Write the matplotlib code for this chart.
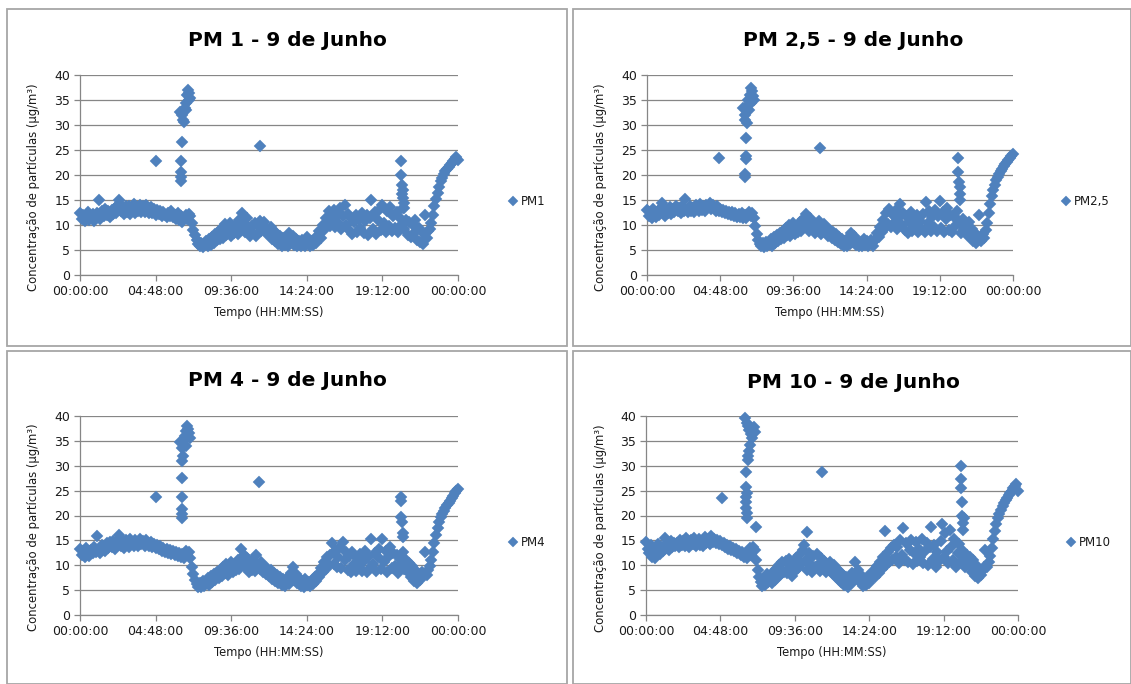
import numpy as np
import matplotlib
matplotlib.use("Agg")
import matplotlib.pyplot as plt
from matplotlib.patches import Rectangle

plt.rcParams['font.family'] = ['DejaVu Sans']

# ---------------- data ----------------
# base samples every 0.1 h (6 min) from 00:00 to 24:00
step_h = 0.1
tick_hours = [0, 4.8, 9.6, 14.4, 19.2, 24]
tick_labels = ["00:00:00", "04:48:00", "09:36:00", "14:24:00", "19:12:00", "00:00:00"]
y_ticks = [0, 5, 10, 15, 20, 25, 30, 35, 40]

pm1_values = [
    12.5, 11.2, 12.0, 10.8, 11.8, 12.6, 11.0, 11.5, 12.3, 10.9,
    11.6, 12.4, 15.0, 11.3, 12.8, 11.8, 13.2, 12.0, 12.9, 11.7,
    13.0, 12.2, 13.5, 12.4, 14.0, 15.0, 12.8, 13.6, 12.2, 13.8,
    12.6, 13.9, 12.3, 13.4, 14.2, 12.5, 13.7, 12.9, 14.0, 12.6,
    13.8, 12.7, 14.1, 13.0, 12.5, 13.6, 12.4, 13.2, 12.1, 13.0,
    12.3, 12.9, 11.8, 12.6, 12.0, 11.7, 12.5, 11.9, 12.8, 11.6,
    12.1, 11.2, 12.4, 11.0, 11.8, 10.7, 11.5, 12.0, 11.3, 12.2,
    11.8, 10.5, 9.0, 8.0, 7.0, 6.3, 5.8, 6.5, 5.7, 6.2,
    6.8, 5.8, 7.2, 6.1, 7.6, 6.5, 8.2, 7.0, 8.8, 7.2,
    9.5, 7.5, 10.2, 8.0, 9.0, 10.5, 7.8, 9.6, 8.4, 10.0,
    8.2, 11.0, 9.0, 12.5, 10.2, 8.6, 11.5, 9.4, 7.8, 9.8,
    8.5, 10.4, 7.9, 9.8, 10.8, 8.8, 9.6, 10.6, 8.4, 9.2,
    8.0, 9.6, 7.2, 8.8, 6.8, 8.2, 6.2, 7.8, 5.9, 7.4,
    6.0, 7.5, 5.8, 8.5, 6.6, 7.8, 6.0, 7.2, 5.8, 6.8,
    5.9, 7.0, 6.2, 5.8, 7.6, 6.4, 5.8, 6.9, 6.1, 7.4,
    6.5, 7.8, 8.8, 7.5, 10.0, 9.0, 11.5, 10.2, 12.8, 9.8,
    11.2, 13.0, 9.6, 12.0, 10.4, 13.5, 9.2, 11.8, 14.0, 10.0,
    12.2, 9.0, 11.5, 8.2, 10.6, 12.0, 8.6, 11.2, 9.4, 12.4,
    8.4, 10.8, 12.0, 8.0, 11.5, 15.0, 9.2, 12.6, 8.2, 11.0,
    13.0, 9.0, 14.0, 10.5, 8.6, 12.8, 9.8, 13.6, 8.8, 11.8,
    9.4, 12.6, 8.6, 11.4, 10.0, 13.5, 9.2, 11.0, 8.0, 10.6,
    7.6, 10.2, 8.4, 11.0, 7.0, 9.4, 6.6, 8.6, 6.2, 12.0,
    7.5, 8.8, 9.2, 10.5, 12.0, 13.8, 15.2, 16.5, 17.6, 18.8,
    19.5, 20.2, 20.8, 21.2, 21.6, 22.0, 22.4, 22.8, 23.2, 23.6,
    23.0,
]
pm1_extra_t = [4.83, 6.40, 6.40, 6.42, 6.42, 6.45, 6.38, 6.50, 6.55, 6.60, 6.65, 6.70,
               6.80, 6.85, 6.95, 7.00, 6.90, 6.75, 11.40,
               20.40, 20.40, 20.45, 20.50, 20.50, 20.55, 20.60, 20.45]
pm1_extra_v = [22.9, 18.8, 19.6, 20.6, 22.8, 26.7, 32.7, 32.0, 31.0, 30.6, 33.5, 34.5,
               36.0, 37.0, 36.4, 35.5, 35.0, 33.0, 25.8,
               22.9, 20.0, 18.0, 17.0, 15.5, 14.5, 13.5, 16.2]

pm25_values = [
    13.0, 11.8, 12.6, 11.5, 13.2, 12.2, 11.6, 12.8, 12.0, 13.4,
    14.5, 12.3, 11.8, 13.0, 12.4, 13.6, 12.2, 13.2, 12.6, 13.8,
    12.8, 13.5, 12.4, 13.9, 12.9, 15.2, 13.1, 12.6, 13.8, 12.8,
    13.5, 12.7, 14.0, 13.2, 12.8, 14.2, 13.0, 13.8, 12.9, 14.0,
    13.6, 14.5, 13.2, 14.0, 13.4, 12.9, 13.8, 12.8, 13.3, 12.6,
    13.0, 12.4, 12.9, 12.2, 12.7, 12.0, 12.6, 11.8, 12.4, 11.7,
    12.3, 11.6, 12.5, 11.5, 12.0, 11.4, 12.2, 12.6, 11.8, 12.4,
    11.5, 9.8, 8.2, 7.0, 6.2, 5.8, 6.4, 5.7, 6.6, 5.8,
    6.2, 7.2, 5.9, 7.6, 6.4, 8.0, 6.8, 8.4, 7.2, 8.8,
    7.5, 9.4, 8.0, 10.0, 7.8, 9.2, 10.4, 8.2, 9.8, 8.6,
    10.6, 8.8, 11.2, 9.6, 12.3, 10.4, 8.8, 11.4, 9.2, 10.6,
    8.4, 10.2, 9.0, 10.8, 8.2, 9.6, 10.2, 8.6, 9.4, 7.8,
    9.0, 7.4, 8.6, 7.0, 8.2, 6.6, 7.6, 6.2, 7.2, 5.9,
    6.8, 5.8, 7.4, 6.2, 8.4, 6.6, 7.8, 6.0, 7.0, 5.8,
    6.6, 5.8, 7.2, 6.0, 6.8, 5.8, 6.4, 7.0, 5.9, 6.8,
    7.2, 8.4, 7.6, 9.6, 8.6, 11.0, 9.4, 12.4, 10.2, 13.2,
    9.6, 12.0, 10.4, 13.0, 9.2, 11.6, 14.2, 10.0, 12.4, 9.0,
    11.8, 8.4, 10.6, 12.6, 8.8, 11.2, 9.6, 12.0, 8.6, 10.8,
    9.2, 12.2, 8.6, 14.6, 10.4, 12.8, 8.8, 11.6, 9.6, 13.0,
    8.8, 11.8, 14.8, 9.4, 12.6, 8.6, 11.2, 13.4, 9.0, 12.0,
    8.6, 11.6, 9.8, 12.8, 11.0, 10.2, 8.4, 11.2, 9.0, 10.4,
    8.0, 10.6, 7.6, 9.2, 6.8, 8.4, 6.4, 7.6, 12.0, 6.8,
    8.2, 7.4, 9.0, 10.5, 12.4, 14.2, 15.8, 17.0, 18.0, 19.0,
    19.6, 20.2, 20.8, 21.3, 21.8, 22.2, 22.6, 23.0, 23.5, 23.9,
    24.3,
]
pm25_extra_t = [4.70, 6.45, 6.45, 6.47, 6.47, 6.50, 6.30, 6.40, 6.45, 6.55, 6.60, 6.65,
                6.75, 6.85, 6.90, 6.95, 7.00, 6.70, 6.80, 11.35,
                20.40, 20.40, 20.45, 20.50, 20.50, 20.55]
pm25_extra_v = [23.5, 19.6, 20.3, 23.2, 23.8, 27.5, 33.5, 32.0, 31.0, 30.5, 34.0, 35.0,
                36.0, 37.4, 36.8, 35.8, 35.0, 33.0, 34.5, 25.5,
                23.5, 20.7, 18.7, 17.7, 16.3, 15.0]

pm4_values = [
    13.2, 12.0, 12.8, 11.6, 13.4, 12.2, 11.8, 13.0, 12.4, 13.6,
    12.6, 15.8, 13.0, 12.4, 14.0, 13.2, 12.8, 14.4, 13.4, 14.6,
    13.6, 14.8, 13.2, 14.2, 15.0, 16.0, 13.8, 14.6, 13.4, 15.0,
    14.0, 13.6, 15.2, 14.2, 13.8, 15.0, 14.4, 13.9, 15.2, 14.2,
    14.8, 13.8, 15.0, 14.4, 13.9, 14.6, 13.6, 14.2, 13.4, 14.0,
    13.2, 13.8, 12.9, 13.5, 12.6, 13.3, 12.4, 13.0, 12.2, 12.8,
    12.0, 12.6, 11.8, 12.4, 11.6, 12.2, 11.5, 12.8, 12.0, 12.6,
    11.4, 9.6, 8.2, 7.0, 6.2, 5.6, 6.4, 5.6, 6.8, 5.8,
    6.4, 7.4, 6.0, 7.8, 6.6, 8.2, 7.0, 8.6, 7.4, 9.0,
    7.8, 9.6, 8.4, 10.2, 8.0, 9.4, 10.6, 8.6, 10.0, 9.0,
    11.0, 9.2, 13.2, 10.4, 12.0, 9.6, 11.4, 8.6, 10.2, 9.0,
    11.0, 8.8, 12.0, 10.0, 9.2, 10.6, 8.6, 9.8, 8.2, 9.4,
    7.8, 9.0, 7.2, 8.4, 6.8, 8.0, 6.4, 7.6, 6.0, 7.2,
    5.8, 6.8, 7.6, 6.2, 8.4, 9.6, 7.0, 8.2, 6.4, 7.4,
    5.8, 6.8, 5.6, 7.2, 6.0, 6.6, 5.8, 7.0, 6.2, 7.6,
    6.8, 8.2, 7.6, 9.4, 8.6, 10.6, 9.2, 11.6, 10.0, 12.0,
    14.4, 10.2, 12.8, 9.6, 11.6, 13.6, 9.4, 14.6, 11.0, 12.6,
    9.0, 11.8, 8.6, 12.6, 10.2, 8.8, 11.4, 9.6, 12.2, 8.8,
    10.8, 12.8, 8.6, 11.6, 9.4, 15.2, 10.2, 12.4, 8.8, 11.6,
    13.2, 9.2, 15.2, 10.6, 12.8, 8.6, 11.8, 13.6, 9.4, 12.4,
    9.8, 12.0, 8.4, 11.2, 10.2, 12.6, 9.2, 11.0, 8.6, 10.4,
    7.6, 9.8, 6.8, 9.0, 6.4, 8.2, 7.0, 8.6, 7.8, 12.7,
    8.0, 9.0, 9.8, 11.0, 12.6, 14.4, 16.0, 17.4, 18.6, 19.6,
    20.3, 21.0, 21.6, 22.1, 22.6, 23.0, 23.5, 24.0, 24.5, 25.0,
    25.3,
]
pm4_extra_t = [4.83, 6.45, 6.45, 6.47, 6.47, 6.50, 6.35, 6.45, 6.50, 6.55, 6.60, 6.65,
               6.75, 6.80, 6.85, 6.95, 7.00, 6.70, 11.38,
               20.35, 20.40, 20.40, 20.45, 20.50, 20.50]
pm4_extra_v = [23.7, 19.4, 20.4, 21.4, 23.7, 27.6, 34.8, 33.5, 31.0, 32.0, 35.2, 36.0,
               37.0, 38.0, 37.4, 36.6, 35.6, 34.0, 26.8,
               23.7, 23.0, 19.7, 18.7, 16.4, 15.7]

pm10_values = [
    14.6, 13.2, 12.4, 14.0, 11.6, 13.0, 11.4, 12.6, 14.2, 12.2,
    13.6, 12.8, 15.4, 13.4, 14.2, 13.0, 14.8, 13.6, 14.4, 13.8,
    14.4, 13.6, 15.0, 14.0, 14.8, 13.8, 15.4, 14.2, 13.7, 15.0,
    14.2, 15.4, 13.8, 14.6, 15.2, 14.0, 14.8, 13.9, 15.6, 14.4,
    15.0, 14.2, 15.8, 14.6, 15.2, 14.4, 15.0, 14.2, 14.8, 14.0,
    14.4, 13.6, 14.0, 13.2, 13.8, 13.0, 13.4, 12.8, 13.2, 12.4,
    12.8, 12.0, 12.6, 11.6, 12.2, 11.4, 12.8, 13.4, 12.0, 13.6,
    13.0, 11.0, 9.0, 7.6, 6.6, 5.8, 7.4, 6.0, 8.2, 6.6,
    7.8, 6.4, 8.6, 7.0, 9.2, 7.6, 10.0, 8.2, 10.6, 8.6,
    10.8, 8.4, 11.2, 9.6, 7.8, 10.4, 8.8, 11.4, 9.4, 12.0,
    10.2, 13.0, 14.0, 11.0, 9.0, 12.4, 10.2, 8.6, 11.8, 9.6,
    12.2, 10.0, 8.8, 11.4, 9.4, 10.8, 8.6, 10.2, 9.0, 10.6,
    8.4, 10.0, 7.8, 9.2, 7.2, 8.6, 6.6, 8.0, 6.0, 7.6,
    5.6, 7.2, 6.4, 8.4, 6.8, 10.6, 7.6, 9.0, 6.6, 8.0,
    5.8, 7.2, 6.0, 7.8, 6.4, 8.2, 7.4, 9.0, 7.6, 9.8,
    8.4, 10.6, 9.2, 11.6, 16.8, 10.0, 12.6, 10.6, 13.4, 11.0,
    14.0, 11.6, 13.6, 10.4, 15.0, 12.0, 17.4, 11.0, 14.4, 10.6,
    13.0, 15.0, 10.2, 12.4, 14.6, 10.8, 13.2, 11.6, 15.2, 10.4,
    12.8, 14.4, 10.0, 13.6, 17.6, 11.2, 14.0, 9.6, 12.6, 10.8,
    14.8, 18.2, 11.6, 16.4, 12.8, 10.4, 17.0, 13.6, 11.0, 15.2,
    9.6, 12.4, 14.2, 10.6, 13.0, 11.4, 9.6, 12.0, 10.2, 11.6,
    8.6, 11.0, 7.8, 10.0, 7.4, 9.2, 8.0, 8.8, 9.6, 13.0,
    9.6, 10.6, 11.8, 13.4, 15.2, 16.8, 18.2, 19.4, 20.4, 21.2,
    21.9, 22.5, 23.1, 23.6, 24.1, 24.6, 25.0, 25.5, 25.9, 26.3,
    25.0,
]
pm10_extra_t = [4.88, 6.40, 6.50, 6.60, 6.65, 6.75, 6.85, 6.70, 6.65, 6.60, 6.55, 6.95,
                7.05, 6.45, 6.45, 6.45, 6.47, 6.47, 6.50, 6.50, 6.52, 7.10, 11.35, 10.40,
                20.30, 20.32, 20.35, 20.38, 20.40, 20.45, 20.45, 20.50]
pm10_extra_v = [23.5, 39.5, 38.6, 38.0, 37.2, 36.4, 35.6, 34.2, 33.0, 32.0, 31.2, 37.8,
                36.8, 28.8, 25.8, 23.7, 22.8, 21.6, 20.6, 19.4, 24.6, 17.7, 28.8, 16.7,
                29.9, 27.4, 25.6, 22.7, 20.0, 18.4, 17.0, 19.4]

panels = [
    ("PM 1 - 9 de Junho", "PM1", pm1_values, pm1_extra_t, pm1_extra_v),
    ("PM 2,5 - 9 de Junho", "PM2,5", pm25_values, pm25_extra_t, pm25_extra_v),
    ("PM 4 - 9 de Junho", "PM4", pm4_values, pm4_extra_t, pm4_extra_v),
    ("PM 10 - 9 de Junho", "PM10", pm10_values, pm10_extra_t, pm10_extra_v),
]

# ---------------- layout (pixels) ----------------
W, H = 1131, 684
fig = plt.figure(figsize=(W / 100, H / 100), dpi=100)
fig.patch.set_facecolor("white")

ax_px = [(80, 75, 458, 275), (647, 75, 1013, 275),
         (80, 416, 458, 615), (646, 416, 1018, 615)]
box_px = [(7, 9, 567, 346), (573, 9, 1131, 346),
          (7, 351, 567, 684), (573, 351, 1131, 684)]
title_px = [(287, 40), (853, 40), (287, 380), (853, 382)]
ylab_px = [(34, 187), (600, 187), (34, 527), (600, 528)]
legend_px = [(508, 202), (1061, 202), (508, 543), (1066, 543)]

blue = "#4F81BD"
gray = "#868686"

for (l, t, r, b) in box_px:
    fig.patches.append(Rectangle((l / W, 1 - b / H), (r - l) / W, (b - t) / H,
                                 transform=fig.transFigure, fill=False,
                                 edgecolor="#A6A6A6", linewidth=1.3))

hours = np.arange(len(pm1_values)) * step_h

for i, (title, label, vals, et, ev) in enumerate(panels):
    l, t, r, b = ax_px[i]
    ax = fig.add_axes([l / W, 1 - b / H, (r - l) / W, (b - t) / H])
    tt = np.concatenate([hours, np.array(et)])
    vv = np.concatenate([np.array(vals), np.array(ev)])
    ax.plot(tt, vv, linestyle="none", marker="D", markersize=5.8,
            markerfacecolor=blue, markeredgecolor=blue, markeredgewidth=0.3,
            label=label, zorder=3, clip_on=False)
    ax.set_xlim(0, 24)
    ax.set_ylim(0, 40)
    ax.set_xticks(tick_hours)
    ax.set_xticklabels(tick_labels)
    ax.set_yticks(y_ticks)
    ax.yaxis.grid(True, color=gray, linewidth=0.9)
    ax.set_axisbelow(True)
    for s in ("top", "right"):
        ax.spines[s].set_visible(False)
    for s in ("left", "bottom"):
        ax.spines[s].set_color(gray)
        ax.spines[s].set_linewidth(0.9)
    ax.tick_params(axis="both", direction="out", length=4, width=0.9, color=gray,
                   labelsize=9, labelcolor="#1a1a1a", pad=3)
    ax.set_xlabel("Tempo (HH:MM:SS)", fontsize=8.3, color="#1a1a1a", labelpad=6)
    fig.text(title_px[i][0] / W, 1 - title_px[i][1] / H, title, ha="center", va="center",
             fontsize=14.5, fontweight="bold", color="black")
    fig.text(ylab_px[i][0] / W, 1 - ylab_px[i][1] / H,
             "Concentração de partículas (µg/m³)", rotation=90, ha="center", va="center",
             fontsize=8.4, color="#1a1a1a")
    lx, ly = legend_px[i]
    ax.legend(loc="center left", bbox_to_anchor=(lx / W, 1 - ly / H),
              bbox_transform=fig.transFigure, frameon=False, fontsize=8.5,
              handlelength=0.8, handletextpad=0.3, borderpad=0, borderaxespad=0,
              markerscale=0.8, labelcolor="#1a1a1a")

fig.savefig("out.png", dpi=100, facecolor="white")
